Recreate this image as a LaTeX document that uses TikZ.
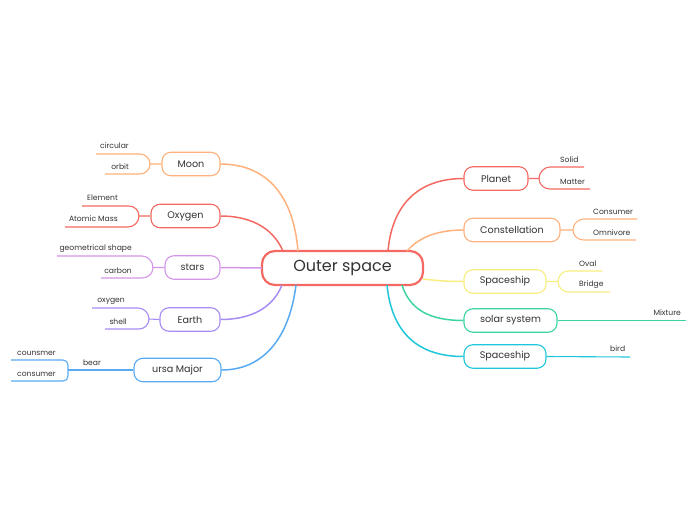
\documentclass[tikz,border=0pt]{standalone}
\usepackage{fontspec}
\setmainfont{Poppins}
\definecolor{cred}{HTML}{F46A62}
\definecolor{corange}{HTML}{FFB27D}
\definecolor{cyellow}{HTML}{F8ED7F}
\definecolor{cgreen}{HTML}{3CD4A1}
\definecolor{ccyan}{HTML}{1FC7DA}
\definecolor{cblue}{HTML}{58AAF2}
\definecolor{cpurple}{HTML}{D396E8}
\definecolor{cviolet}{HTML}{A68CF3}
\definecolor{txt}{HTML}{333333}
\begin{document}
\begin{tikzpicture}[x=1pt,y=-1pt,
  topic/.style={draw=#1, line width=1.1pt, rounded corners=9pt, fill=white, minimum height=23.5pt, inner sep=0pt, text=txt, font=\fontsize{9.6}{12}\selectfont},
  conn/.style={draw=#1, line width=1.5pt},
  subl/.style={draw=#1, line width=1.1pt},
  lbl/.style={font=\fontsize{7.6}{9}\selectfont, inner sep=0pt, text=txt}]
\fill[white] (0,0) rectangle (697,520);
\useasboundingbox (0,0) rectangle (697,520);

% root
\node[draw=cred, line width=2.2pt, rounded corners=13pt, fill=white, minimum width=161pt, minimum height=34pt, inner sep=0pt, text=txt, font=\fontsize{16}{18}\selectfont] (root) at (342.5,268) {Outer space};

% topics
\node[topic=corange, minimum width=58pt] (moon) at (191,164) {Moon};
\node[topic=cred, minimum width=69pt] (oxygen) at (185.5,216) {Oxygen};
\node[topic=cpurple, minimum width=55pt] (stars) at (192.5,267.5) {stars};
\node[topic=cviolet, minimum width=60pt] (earth) at (190,319.5) {Earth};
\node[topic=cblue, minimum width=87pt] (ursa) at (177.5,370) {ursa Major};
\node[topic=cred, minimum width=64pt] (planet) at (496,178.5) {Planet};
\node[topic=corange, minimum width=96pt] (const) at (512,230) {Constellation};
\node[topic=cyellow, minimum width=82pt] (shipA) at (505,281.5) {Spaceship};
\node[topic=cgreen, minimum width=93pt] (solar) at (510.5,320.5) {solar system};
\node[topic=ccyan, minimum width=82pt] (shipB) at (505,356.5) {Spaceship};

% root anchor points
\coordinate (rMoon) at (298,251);
\coordinate (rOxy) at (283,251);
\coordinate (rStars) at (262,268);
\coordinate (rEarth) at (282,285);
\coordinate (rUrsa) at (296,285);
\coordinate (rPlanet) at (388,251);
\coordinate (rConst) at (407,251);
\coordinate (rShipA) at (423,279);
\coordinate (rSolar) at (402,285);
\coordinate (rShipB) at (387,285);

% root connectors
\draw[conn=corange] (rMoon) .. controls (293,190) and (262,164) .. (moon.east);
\draw[conn=cred] (rOxy) .. controls (272,226) and (248,216) .. (oxygen.east);
\draw[conn=cpurple] (rStars) -- (stars.east);
\draw[conn=cviolet] (rEarth) .. controls (272,310) and (248,319.5) .. (earth.east);
\draw[conn=cblue] (rUrsa) .. controls (289,340) and (262,370) .. (ursa.east);
\draw[conn=cred] (rPlanet) .. controls (392,205) and (418,178.5) .. (planet.west);
\draw[conn=corange] (rConst) .. controls (420,236) and (440,230) .. (const.west);
\draw[conn=cyellow] (rShipA) .. controls (440,281) and (450,281.5) .. (shipA.west);
\draw[conn=cgreen] (rSolar) .. controls (410,310) and (430,320.5) .. (solar.west);
\draw[conn=ccyan] (rShipB) .. controls (392,335) and (420,356.5) .. (shipB.west);

% ---- Moon
\coordinate (moonJ) at (150,164);
\coordinate (cirL) at (96,154); \coordinate (cirR) at (140,154);
\coordinate (orbL) at (105,174); \coordinate (orbR) at (140,174);
\node[lbl, anchor=east] (circular) at (129,146) {circular};
\node[lbl, anchor=east] (orbit) at (129,167) {orbit};
\draw[subl=corange] (cirL) -- (cirR) .. controls +(5.5,0) and +(0,-5.5) .. (moonJ) -- (moon.west);
\draw[subl=corange] (orbL) -- (orbR) .. controls +(5.5,0) and +(0,5.5) .. (moonJ);

% ---- Oxygen
\coordinate (oxyJ) at (139,216);
\coordinate (eleL) at (82,206); \coordinate (eleR) at (129,206);
\coordinate (atmL) at (65,227); \coordinate (atmR) at (128,227);
\node[lbl, anchor=east] (element) at (118,198) {Element};
\node[lbl, anchor=east] (atomic) at (118,219) {Atomic Mass};
\draw[subl=cred] (eleL) -- (eleR) .. controls +(5.5,0) and +(0,-5.5) .. (oxyJ) -- (oxygen.west);
\draw[subl=cred] (atmL) -- (atmR) .. controls +(6,0) and +(0,6) .. (oxyJ);

% ---- stars
\coordinate (starJ) at (153,267.5);
\coordinate (geoL) at (57,256); \coordinate (geoR) at (142,256);
\coordinate (carL) at (101,278); \coordinate (carR) at (142,278);
\node[lbl, anchor=east] (geo) at (132,249) {geometrical shape};
\node[lbl, anchor=east] (carbon) at (132,271) {carbon};
\draw[subl=cpurple] (geoL) -- (geoR) .. controls +(6,0) and +(0,-6) .. (starJ) -- (stars.west);
\draw[subl=cpurple] (carL) -- (carR) .. controls +(6,0) and +(0,6) .. (starJ);

% ---- Earth
\coordinate (earthJ) at (149,319);
\coordinate (oxgL) at (92,308); \coordinate (oxgR) at (138,308);
\coordinate (shlL) at (105,329); \coordinate (shlR) at (139,329);
\node[lbl, anchor=east] (oxg) at (125,301) {oxygen};
\node[lbl, anchor=east] (shell) at (127,322) {shell};
\draw[subl=cviolet] (oxgL) -- (oxgR) .. controls +(6,0) and +(0,-6) .. (earthJ) -- (earth.west);
\draw[subl=cviolet] (shlL) -- (shlR) .. controls +(5.5,0) and +(0,5.5) .. (earthJ);

% ---- ursa Major
\coordinate (bearJ) at (68,370);
\node[lbl] (bear) at (92,363) {bear};
\draw[subl=cblue] (ursa.west) -- (bearJ);
\coordinate (cnsL) at (11,360); \coordinate (cnsR) at (63,360);
\coordinate (conL) at (11,381); \coordinate (conR) at (63,381);
\node[lbl, anchor=west] (counsmer) at (17,353) {counsmer};
\node[lbl, anchor=west] (consumer) at (17,374) {consumer};
\draw[subl=cblue] (cnsL) -- (cnsR) .. controls +(3,0) and +(0,-3) .. ++(5,5) -- ++(0,11) .. controls +(0,3) and +(3,0) .. (conR) -- (conL);

% ---- Planet
\coordinate (planetJ) at (539,178.5);
\coordinate (solL) at (550,167); \coordinate (solR) at (584,167);
\coordinate (matL) at (550,189); \coordinate (matR) at (590,189);
\node[lbl, anchor=west] (solid) at (560,159.5) {Solid};
\node[lbl, anchor=west] (matter) at (560,181.5) {Matter};
\draw[subl=cred] (solR) -- (solL) .. controls +(-6,0) and +(0,-6) .. (planetJ) -- (planet.east);
\draw[subl=cred] (matR) -- (matL) .. controls +(-6,0) and +(0,6) .. (planetJ);

% ---- Constellation
\coordinate (constJ) at (573,230);
\coordinate (cnmL) at (584,219); \coordinate (cnmR) at (637,219);
\coordinate (omnL) at (584,240); \coordinate (omnR) at (636,240);
\node[lbl, anchor=west] (consumerR) at (593,211.5) {Consumer};
\node[lbl, anchor=west] (omnivore) at (593,232.5) {Omnivore};
\draw[subl=corange] (cnmR) -- (cnmL) .. controls +(-6,0) and +(0,-6) .. (constJ) -- (const.east);
\draw[subl=corange] (omnR) -- (omnL) .. controls +(-6,0) and +(0,6) .. (constJ);

% ---- Spaceship (yellow)
\coordinate (shipJ) at (558,281.5);
\coordinate (ovlL) at (568,271); \coordinate (ovlR) at (602,271);
\coordinate (brgL) at (568,292); \coordinate (brgR) at (610,292);
\node[lbl, anchor=west] (oval) at (579,263.5) {Oval};
\node[lbl, anchor=west] (bridge) at (579,284.5) {Bridge};
\draw[subl=cyellow] (ovlR) -- (ovlL) .. controls +(-5.5,0) and +(0,-5.5) .. (shipJ) -- (shipA.east);
\draw[subl=cyellow] (brgR) -- (brgL) .. controls +(-5.5,0) and +(0,5.5) .. (shipJ);

% ---- solar system
\coordinate (mixR) at (686,320.5);
\node[lbl, anchor=east] (mixture) at (681,312.5) {Mixture};
\draw[subl=cgreen] (solar.east) -- (mixR);

% ---- Spaceship (cyan)
\coordinate (birdR) at (630,357);
\node[lbl, anchor=west] (bird) at (610,348.5) {bird};
\draw[subl=ccyan] (shipB.east) -- (birdR);
\end{tikzpicture}
\end{document}
